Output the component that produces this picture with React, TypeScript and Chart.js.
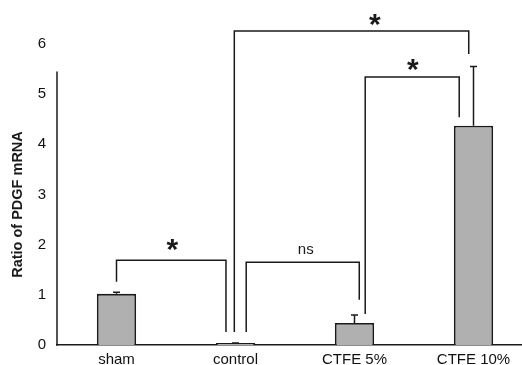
import { useEffect, useRef } from 'react';
import Chart from 'chart.js/auto';

const categories = ['sham', 'control', 'CTFE 5%', 'CTFE 10%'];
const means = [1.02, 0.02, 0.44, 4.37];
const upperErrors = [0.03, 0.02, 0.16, 1.18];
const yMin = 0;
const yMax = 6;
const yStep = 1;
const yAxisTitle = 'Ratio of PDGF mRNA';
const yAxisLineTop = 5.45;

// significance brackets (category index units / value units)
const bracketFrom = [0, 1.09, 2.09, 0.99];
const bracketTo = [0.92, 2.04, 2.88, 2.96];
const bracketTop = [1.69, 1.65, 5.34, 6.26];
const bracketLeftEnd = [1.26, 0.26, 0.62, 0.26];
const bracketRightEnd = [0.26, 0.9, 4.54, 5.8];
const bracketLabels = ['*', 'ns', '*', '*'];
const bracketLabelAt = [0.47, 1.59, 2.49, 2.17];
const bracketLabelLevel = [1.99, 1.89, 5.58, 6.48];

const FONT = "'Liberation Sans', Arial, sans-serif";
const INK = '#1a1a1a';

const overlay = {
  id: 'overlay',
  afterDatasetsDraw(chart: any) {
    const { ctx, scales } = chart;
    const x = scales.x;
    const y = scales.y;
    ctx.save();
    ctx.strokeStyle = INK;
    ctx.fillStyle = INK;
    ctx.lineWidth = 1.5;
    ctx.lineCap = 'butt';

    // y axis line (partial)
    ctx.beginPath();
    ctx.moveTo(chart.chartArea.left, y.getPixelForValue(0) + 0.75);
    ctx.lineTo(chart.chartArea.left, y.getPixelForValue(yAxisLineTop));
    ctx.stroke();

    // error bars
    means.forEach((m, i) => {
      const cx = x.getPixelForValue(i);
      const y0 = y.getPixelForValue(m);
      const y1 = y.getPixelForValue(m + upperErrors[i]);
      ctx.beginPath();
      ctx.moveTo(cx, y0);
      ctx.lineTo(cx, y1);
      ctx.moveTo(cx - 3.5, y1);
      ctx.lineTo(cx + 3.5, y1);
      ctx.stroke();
    });

    // brackets
    bracketLabels.forEach((lab, i) => {
      const xl = x.getPixelForValue(bracketFrom[i]);
      const xr = x.getPixelForValue(bracketTo[i]);
      const yt = y.getPixelForValue(bracketTop[i]);
      ctx.beginPath();
      ctx.moveTo(xl, y.getPixelForValue(bracketLeftEnd[i]));
      ctx.lineTo(xl, yt);
      ctx.lineTo(xr, yt);
      ctx.lineTo(xr, y.getPixelForValue(bracketRightEnd[i]));
      ctx.stroke();
      const lx = x.getPixelForValue(bracketLabelAt[i]);
      const ly = y.getPixelForValue(bracketLabelLevel[i]);
      ctx.textAlign = 'center';
      ctx.textBaseline = 'alphabetic';
      ctx.font = lab === '*' ? `bold 30px ${FONT}` : `15px ${FONT}`;
      const m = ctx.measureText(lab);
      const asc = m.actualBoundingBoxAscent;
      const desc = m.actualBoundingBoxDescent;
      ctx.fillText(lab, lx, ly + (asc - desc) / 2);
    });

    // y title
    const cy = (y.getPixelForValue(0) + y.getPixelForValue(yMax)) / 2 + 10;
    ctx.translate(18, cy);
    ctx.rotate(-Math.PI / 2);
    ctx.font = `bold 14.5px ${FONT}`;
    ctx.textAlign = 'center';
    ctx.textBaseline = 'middle';
    ctx.fillText(yAxisTitle, 0, 0);
    ctx.restore();
  },
};

export default function App() {
  const ref = useRef<HTMLCanvasElement | null>(null);
  useEffect(() => {
    if (!ref.current) return;
    const chart = new Chart(ref.current, {
      type: 'bar',
      data: {
        labels: categories,
        datasets: [
          {
            data: means,
            backgroundColor: '#b0b0b0',
            borderColor: INK,
            borderWidth: 1.8,
            minBarLength: 2,
            barPercentage: 0.33,
            categoryPercentage: 1,
          },
        ],
      },
      options: {
        responsive: false,
        animation: false,
        layout: { padding: { left: 0, right: 7, top: 44, bottom: 0 } },
        plugins: { legend: { display: false }, tooltip: { enabled: false } },
        scales: {
          x: {
            grid: { display: false, drawTicks: false },
            border: { display: true, color: INK, width: 1.5 },
            ticks: { font: { family: FONT, size: 15 }, color: '#111', padding: 6 },
            afterFit: (s: any) => {
              s.height = 20;
            },
          },
          y: {
            min: yMin,
            max: yMax,
            grid: { display: false, drawTicks: false },
            border: { display: false },
            ticks: { stepSize: yStep, font: { family: FONT, size: 15 }, color: '#111', padding: 11 },
            afterFit: (s: any) => {
              s.width = 57;
            },
          },
        },
      },
      plugins: [overlay],
    } as any);
    return () => chart.destroy();
  }, []);
  return (
    <div style={{ position: 'fixed', left: 0, top: 0, width: 522, height: 365, overflow: 'hidden', background: '#fff' }}>
      <canvas ref={ref} width={540} height={365} style={{ display: 'block' }} />
    </div>
  );
}
